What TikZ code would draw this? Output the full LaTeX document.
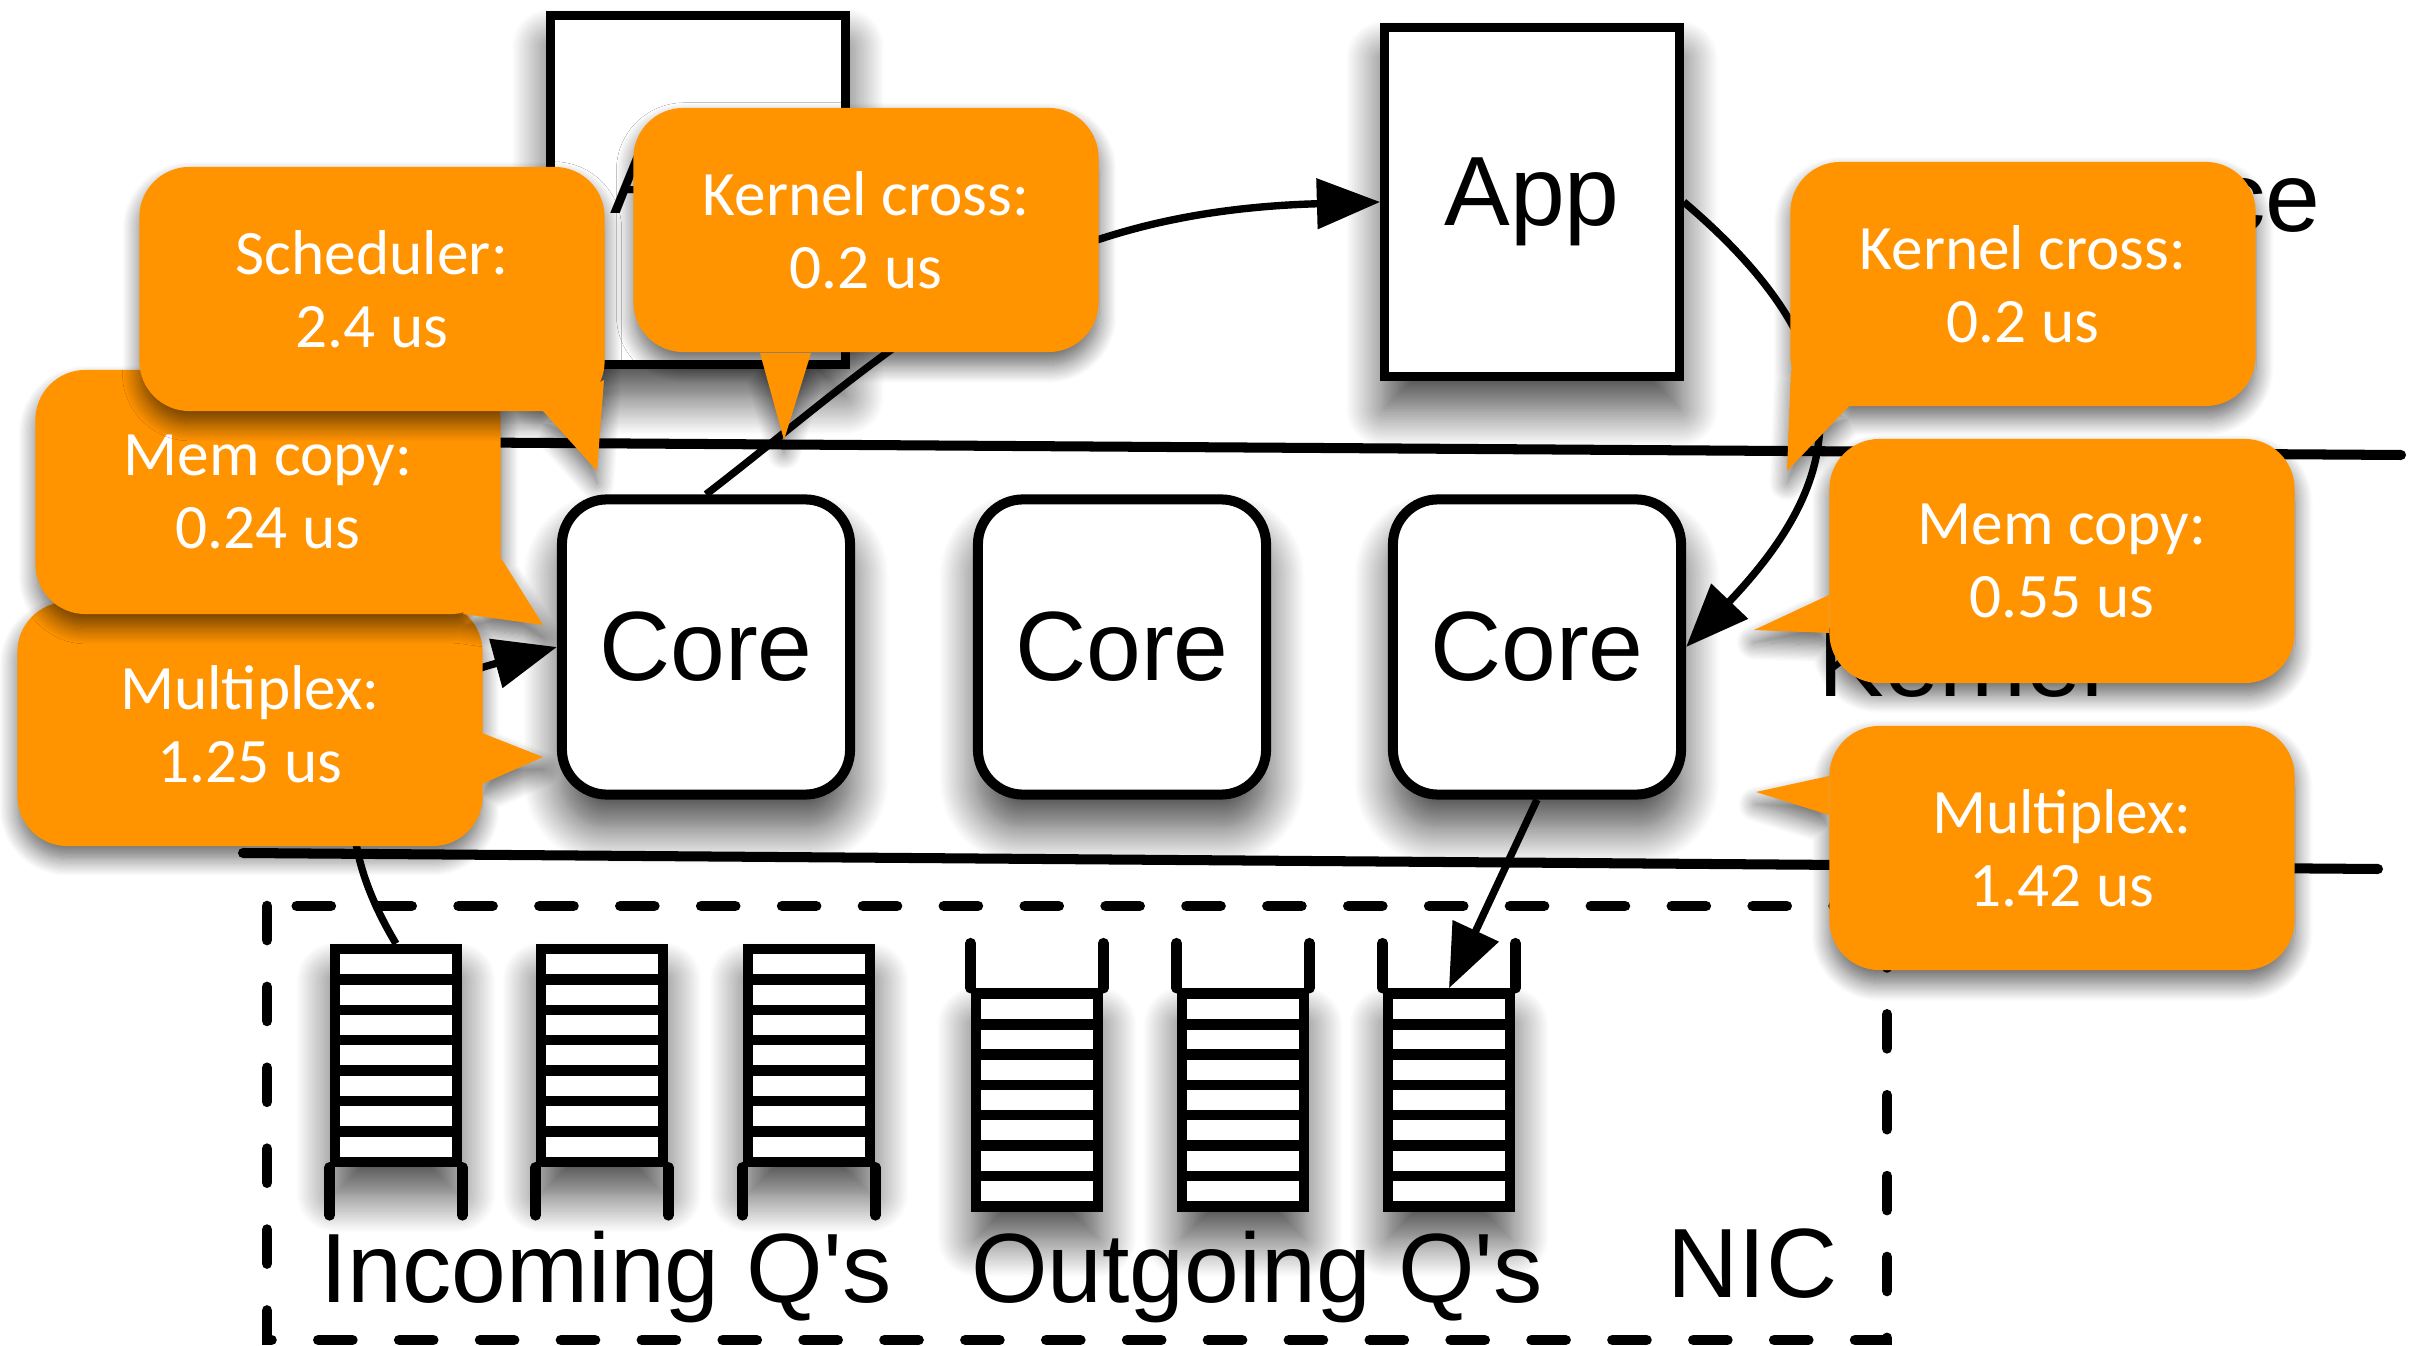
\documentclass[tikz,border=0pt]{standalone}
\usepackage{fontspec}
\setmainfont{Liberation Sans}
\newfontfamily\calloutfont{Carlito}
\usepackage{xcolor}
\usepackage{tikz}
\usetikzlibrary{arrows.meta, shadows.blur}
\definecolor{calloutorange}{HTML}{FF9300}
\tikzstyle{boxshadow} = [blur shadow={shadow xshift=0pt, shadow yshift=-9pt, shadow blur radius=11pt, shadow blur steps=25, shadow opacity=75}]
\tikzstyle{biglabel} = [inner sep=0pt, font=\fontsize{28}{34}\selectfont]
\tikzstyle{appbox} = [rectangle, draw, line width=2.4pt, fill=white, minimum width=2.95cm, minimum height=3.49cm, boxshadow, biglabel]
\tikzstyle{corebox} = [rectangle, draw, line width=2.85pt, rounded corners=0.45cm, fill=white, minimum width=2.88cm, minimum height=2.95cm, boxshadow, biglabel]
\tikzstyle{queuebox} = [rectangle, draw, line width=3pt, fill=white, minimum width=1.22cm, minimum height=2.13cm, inner sep=0pt, boxshadow]
\tikzstyle{qline} = [line width=3pt, line cap=round]
\tikzstyle{sepline} = [line width=2.85pt, line cap=round]
\tikzstyle{nicbox} = [line width=3pt, line cap=round, dash pattern=on 9.7pt off 13.3pt]
\tikzstyle{link} = [draw, line width=2.1pt, -{Triangle[length=18pt, width=14pt]}]
\tikzstyle{bubble} = [rectangle, fill=calloutorange, rounded corners=0.5cm, minimum width=4.65cm, minimum height=2.44cm, inner sep=0pt, align=center, text=white, font=\calloutfont\fontsize{18}{20.8}\selectfont]
\tikzstyle{bubbletail} = [fill=calloutorange]
\tikzstyle{bubbleshade} = [blur shadow={shadow xshift=0pt, shadow yshift=-3.5pt, shadow blur radius=5pt, shadow blur steps=15, shadow opacity=60}]

\begin{document}
\begin{tikzpicture}[x=0.01cm, y=-0.01cm]
    \useasboundingbox (0,0) rectangle (2411,1346);
    % user space
    \node[appbox] at (698,190) (app1) {App};
    \node[appbox] at (1532,202) (app2) {App};
    \node[biglabel, anchor=base west] at (1822,232) (userlbl) {User space};
    \node[biglabel, anchor=base west] at (1818,697) (kernlbl) {Kernel};
    \draw[sepline] (243,441) -- (2401,455);
    \draw[sepline] (243,853) -- (2378,869);
    % kernel
    \node[corebox] at (706,647) (core1) {Core};
    \node[corebox] at (1122,647) (core2) {Core};
    \node[corebox] at (1537,647) (core3) {Core};
    % nic
    \draw[nicbox] (267,906) rectangle (1887,1340);
    \node[biglabel, anchor=base west] at (1667,1297) (niclbl) {NIC};
    \foreach \q/\x in {q1/396, q2/602, q3/809} {
        \node[queuebox] at (\x,1055.5) (\q) {};
        \draw[qline] (\q.south west) -- ++(0,48) (\q.south east) -- ++(0,48);
        \foreach \k in {1,...,6}
            \draw[line width=3pt] ({\x-61},{949+30.4*\k}) -- ({\x+61},{949+30.4*\k});
    }
    \foreach \q/\x in {q4/1037, q5/1243, q6/1449} {
        \node[queuebox] at (\x,1100) (\q) {};
        \draw[qline] (\q.north west) -- ++(0,-45) (\q.north east) -- ++(0,-45);
        \foreach \k in {1,...,6}
            \draw[line width=3pt] ({\x-61},{994+30.3*\k}) -- ({\x+61},{994+30.3*\k});
    }
    \node[biglabel, anchor=base] at (606,1302) (inlbl) {Incoming Q\textquotesingle s};
    \node[biglabel, anchor=base] at (1257,1302) (outlbl) {Outgoing Q\textquotesingle s};
    % paths
    \draw[link] (core1.north) .. controls (900,345) and (1020,212) .. (app2.west);
    \draw[link] (app2.east) .. controls (1870,360) and (1845,480) .. (core3.east);
    \draw[link] (q1.north) .. controls (310,800) and (360,700) .. (core1.west);
    \draw[link] (core3.south) -- (q6.north);
    % left callouts
    \path[bubbleshade] (17,603) [rounded corners=0.5cm] rectangle (482,846) [sharp corners] (482,733) -- (543,757) -- (482,784) -- cycle;
    \fill[bubbletail] (482,733) -- (543,757) -- (482,784) -- cycle;
    \node[bubble] at (250,724) (muxl) {Multiplex:\\1.25 us};
    \path[bubbleshade] (36,371) [rounded corners=0.5cm] rectangle (501,614) [sharp corners] (501,558) -- (543,625) -- (463,614) -- cycle;
    \fill[bubbletail] (501,558) -- (543,625) -- (463,614) -- cycle;
    \node[bubble] at (268,492) (meml) {Mem copy:\\0.24 us};
    \path[bubbleshade] (140,167) [rounded corners=0.5cm] rectangle (604,411) [sharp corners] (543,411) -- (597,471) -- (604,380) -- cycle;
    \fill[bubbletail] (543,411) -- (597,471) -- (604,380) -- cycle;
    \node[bubble] at (372,289) (sched) {Scheduler:\\2.4 us};
    \path[bubbleshade] (634,108) [rounded corners=0.5cm] rectangle (1099,353) [sharp corners] (760,353) -- (784,440) -- (811,353) -- cycle;
    \fill[bubbletail] (760,353) -- (784,440) -- (811,353) -- cycle;
    \node[bubble] at (866,230) (kernl) {Kernel cross:\\0.2 us};
    % right callouts
    \path[bubbleshade] (1791,162) [rounded corners=0.5cm] rectangle (2256,406) [sharp corners] (1791,370) -- (1787,471) -- (1849,406) -- cycle;
    \fill[bubbletail] (1791,370) -- (1787,471) -- (1849,406) -- cycle;
    \node[bubble] at (2023,284) (kernr) {Kernel cross:\\0.2 us};
    \path[bubbleshade] (1829,440) [rounded corners=0.5cm] rectangle (2295,683) [sharp corners] (1829,595) -- (1754,630) -- (1829,633) -- cycle;
    \fill[bubbletail] (1829,595) -- (1754,630) -- (1829,633) -- cycle;
    \node[bubble] at (2062,561) (memr) {Mem copy:\\0.55 us};
    \path[bubbleshade] (1829,725) [rounded corners=0.5cm] rectangle (2295,971) [sharp corners] (1829,776) -- (1756,792) -- (1829,815) -- cycle;
    \fill[bubbletail] (1829,776) -- (1756,792) -- (1829,815) -- cycle;
    \node[bubble] at (2062,848) (muxr) {Multiplex:\\1.42 us};
\end{tikzpicture}
\end{document}
